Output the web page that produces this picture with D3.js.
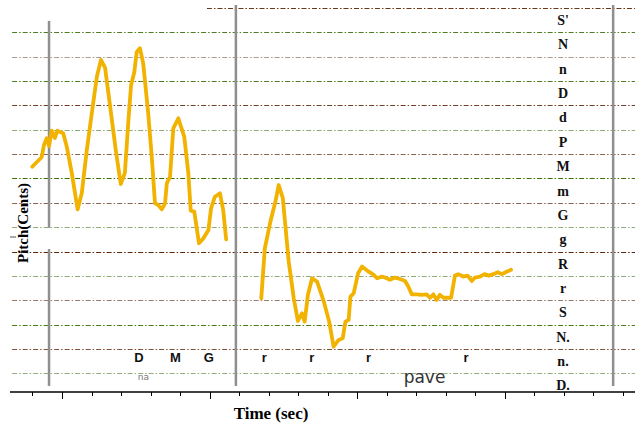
<!DOCTYPE html>
<html>
<head>
<meta charset="utf-8">
<script src="https://cdn.jsdelivr.net/npm/d3@7"></script>
<style>
  body { margin: 0; background: #fff; }
  svg { display: block; }
</style>
</head>
<body>
<svg class="graph"></svg>
<script>
// pitch contour, time (sec) vs cents relative to S
const phrase1 = [
  [0.399, 598], [0.431, 637], [0.439, 688], [0.448, 715], [0.456, 683], [0.465, 746],
  [0.476, 716], [0.484, 746], [0.504, 736], [0.516, 681], [0.533, 573], [0.553, 423],
  [0.567, 490], [0.584, 667], [0.601, 819], [0.618, 968], [0.632, 1037], [0.646, 1004],
  [0.663, 845], [0.682, 667], [0.699, 527], [0.713, 573], [0.725, 790], [0.734, 934],
  [0.745, 987], [0.753, 1069], [0.764, 1085], [0.775, 1023], [0.792, 818], [0.804, 639],
  [0.815, 448], [0.826, 441], [0.838, 423], [0.849, 448], [0.855, 530], [0.866, 557],
  [0.877, 756], [0.894, 797], [0.914, 722], [0.928, 571], [0.936, 418], [0.948, 414],
  [0.964, 284], [0.979, 304], [0.996, 338], [1.005, 428], [1.018, 475], [1.035, 489],
  [1.046, 421], [1.056, 300]
];
const phrase2 = [
  [1.175, 58], [1.187, 263], [1.206, 373], [1.223, 455], [1.234, 523], [1.248, 469],
  [1.268, 208], [1.285, 58], [1.299, -35], [1.313, -4], [1.322, -38], [1.333, 72],
  [1.347, 140], [1.364, 126], [1.387, 44], [1.405, -38], [1.420, -141], [1.437, -113],
  [1.451, -106], [1.460, -38], [1.471, -31], [1.477, 65], [1.488, 78], [1.503, 161],
  [1.516, 188], [1.539, 167], [1.556, 154], [1.567, 140], [1.584, 147], [1.594, 143],
  [1.611, 134], [1.628, 143], [1.645, 137], [1.662, 129], [1.673, 106], [1.685, 74],
  [1.702, 74], [1.718, 72], [1.735, 74], [1.747, 60], [1.758, 74], [1.769, 51],
  [1.780, 72], [1.792, 60], [1.818, 60], [1.831, 151], [1.842, 157], [1.859, 147],
  [1.874, 151], [1.888, 129], [1.899, 143], [1.916, 147], [1.931, 157], [1.946, 151],
  [1.961, 157], [1.976, 165], [1.990, 157], [2.006, 167], [2.021, 175]
];

// swara names from the top band (S', 1200 cents) down to D. (-300 cents)
const swaras = ["S'", "N", "n", "D", "d", "P", "M", "m", "G", "g", "R", "r", "S", "N.", "n.", "D."];
const swaraCents = swaras.map((s, i) => 1200 - 100 * i);
const gridCents = swaras.map((s, i) => 1250 - 100 * i);

// cycle markers
const markers = [0.456, 1.089, 2.367];

// syllable / note annotations
const noteLabels = ["D", "M", "G", "r", "r", "r", "r"];
const noteTimes = [0.761, 0.884, 0.997, 1.185, 1.346, 1.538, 1.869];
const lyrics = ["na", "pave"];
const lyricTimes = [0.776, 1.728];

const majorTicks = [0.5, 1.0, 1.5, 2.0];
const minorTicks = d3.range(4, 25).map(d => d / 10);

const gridColors = ["#6b3815", "#4f7d22", "#ab9a8e", "#4f7d22", "#6e4128", "#8fac78",
  "#8a6550", "#3f6e05", "#8a6550", "#8fac78", "#5a2a0a", "#8fac78",
  "#9a7a68", "#4a7a16", "#7e5440", "#93ad80"];

const width = 635, height = 423;
const svg = d3.select(".graph").attr("width", width).attr("height", height);

const x = d3.scaleLinear().domain([0.3238, 2.441]).range([10, 635]);
const y = d3.scaleLinear().domain([-327, 1250]).range([392, 8]);

// dash-dot grid
svg.append("g")
  .selectAll("line")
  .data(gridCents)
  .enter()
  .append("line")
    .attr("x1", (d, i) => i === 0 ? x(0.991) : x(0.331))
    .attr("x2", 635)
    .attr("y1", d => Math.round(y(d)) + 0.5)
    .attr("y2", d => Math.round(y(d)) + 0.5)
    .attr("stroke", (d, i) => gridColors[i])
    .attr("stroke-width", 1.2)
    .attr("stroke-dasharray", "5,2,1.5,2");

// vertical cycle lines
const vg = svg.append("g").attr("stroke", "#8f8f8f").attr("stroke-width", 2.5);
vg.append("line").attr("x1", x(markers[0])).attr("x2", x(markers[0]))
  .attr("y1", y(1197)).attr("y2", y(347));
vg.append("line").attr("x1", x(markers[0])).attr("x2", x(markers[0]))
  .attr("y1", y(260)).attr("y2", y(-302));
markers.slice(1).forEach(m => {
  vg.append("line").attr("x1", x(m)).attr("x2", x(m))
    .attr("y1", y(1262)).attr("y2", y(-302));
});

// pitch curve
const line = d3.line().x(d => x(d[0])).y(d => y(d[1]));
[phrase1, phrase2].forEach(p => {
  svg.append("path")
    .datum(p)
    .attr("d", line)
    .attr("fill", "none")
    .attr("stroke", "#f2b200")
    .attr("stroke-width", 3.8)
    .attr("stroke-linejoin", "round")
    .attr("stroke-linecap", "round");
});

// x axis
const axis = svg.append("g").attr("transform", "translate(0,392)");
axis.append("line").attr("x1", 10).attr("x2", 635).attr("stroke", "#000").attr("stroke-width", 1.5);
axis.selectAll(".tick")
  .data(minorTicks)
  .enter()
  .append("line")
    .attr("x1", d => Math.round(x(d)) + 0.5)
    .attr("x2", d => Math.round(x(d)) + 0.5)
    .attr("y1", 0)
    .attr("y2", d => majorTicks.some(m => Math.abs(m - d) < 1e-6) ? 7 : 4)
    .attr("stroke", "#000")
    .attr("stroke-width", 1);

// small y-axis stub
svg.append("line").attr("x1", 10).attr("x2", 16).attr("y1", 237).attr("y2", 237)
  .attr("stroke", "#555").attr("stroke-width", 1);

svg.append("text")
  .attr("x", 271)
  .attr("y", 419)
  .attr("text-anchor", "middle")
  .attr("font-family", "Liberation Serif, serif")
  .attr("font-weight", "bold")
  .attr("font-size", 17)
  .text("Time (sec)");

svg.append("text")
  .attr("transform", "translate(28,223) rotate(-90)")
  .attr("text-anchor", "middle")
  .attr("font-family", "Liberation Serif, serif")
  .attr("font-weight", "bold")
  .attr("font-size", 15)
  .text("Pitch(Cents)");

// swara labels
svg.append("g")
  .selectAll("text")
  .data(swaras)
  .enter()
  .append("text")
    .attr("x", 563)
    .attr("y", (d, i) => y(swaraCents[i]))
    .attr("dy", "0.35em")
    .attr("text-anchor", "middle")
    .attr("font-family", "Liberation Serif, serif")
    .attr("font-weight", "bold")
    .attr("font-size", 14)
    .attr("fill", "#111")
    .text(d => d);

// notes
svg.append("g")
  .selectAll("text")
  .data(noteLabels)
  .enter()
  .append("text")
    .attr("x", (d, i) => x(noteTimes[i]))
    .attr("y", 362)
    .attr("text-anchor", "middle")
    .attr("font-family", "Liberation Sans, Arial, sans-serif")
    .attr("font-weight", "bold")
    .attr("font-size", 13)
    .attr("fill", "#111")
    .text(d => d);

svg.append("text")
  .attr("x", x(lyricTimes[0]))
  .attr("y", 380)
  .attr("text-anchor", "middle")
  .attr("font-family", "DejaVu Sans, sans-serif")
  .attr("font-size", 9)
  .attr("fill", "#777")
  .text(lyrics[0]);

svg.append("text")
  .attr("x", x(lyricTimes[1]))
  .attr("y", 383)
  .attr("text-anchor", "middle")
  .attr("font-family", "DejaVu Sans, sans-serif")
  .attr("font-size", 17)
  .attr("fill", "#333")
  .text(lyrics[1]);
</script>
</body>
</html>
